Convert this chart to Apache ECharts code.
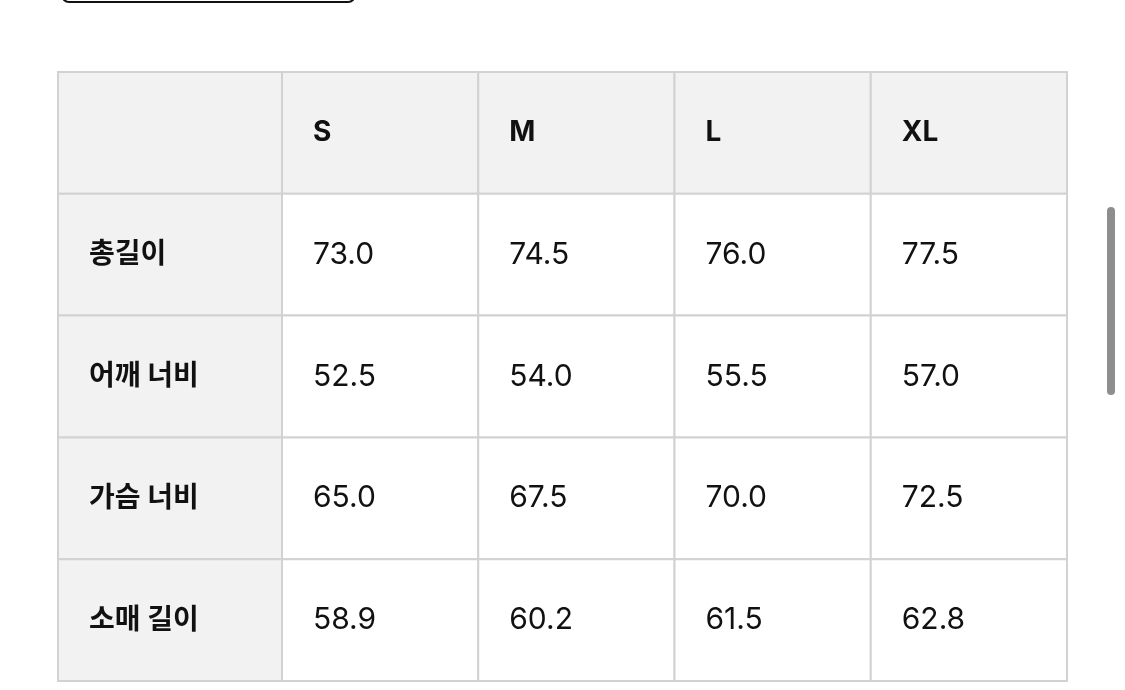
<!DOCTYPE html>
<html><head><meta charset="utf-8">
<script src="https://cdn.jsdelivr.net/npm/echarts@6/dist/echarts.min.js"></script>
<style>html,body{margin:0;padding:0;background:#fff}#c{width:1125px;height:690px}</style>
</head><body><div id="c"></div>
<script>
const sizes = ['S','M','L','XL'];
const rowLabels = ['총길이','어깨 너비','가슴 너비','소매 길이'];
const totalLength = ['73.0','74.5','76.0','77.5'];
const shoulderWidth = ['52.5','54.0','55.5','57.0'];
const chestWidth = ['65.0','67.5','70.0','72.5'];
const sleeveLength = ['58.9','60.2','61.5','62.8'];
const valueRows = [totalLength, shoulderWidth, chestWidth, sleeveLength];

const rowCats = ['header'].concat(rowLabels);
const font = 'Inter, "Noto Sans CJK KR", sans-serif';

const labelData = [[0,0,'',1]];
rowLabels.forEach((r,i)=>labelData.push([0,i+1,r,2]));
const valueData = [];
sizes.forEach((s,j)=>valueData.push([j,0,s,1]));
valueRows.forEach((arr,i)=>arr.forEach((v,j)=>valueData.push([j,i+1,v,0])));

function renderItem(params, api){
  const c = api.coord([api.value(0), api.value(1)]);
  const sz = api.size([1,1]);
  const kind = api.value(3);
  const text = labelData.concat(valueData)[0] && params.seriesIndex===0 ? labelData[params.dataIndex][2] : valueData[params.dataIndex][2];
  const x = c[0]-sz[0]/2, y = c[1]-sz[1]/2;
  return {type:'group', children:[
    {type:'rect', shape:{x:x,y:y,width:sz[0],height:sz[1]},
     style:{fill: kind>0 ? '#f2f2f2' : '#ffffff', stroke:'#d2d2d2', lineWidth:2}},
    {type:'text', style:{x:x+31, y:c[1], text:text, verticalAlign:'middle', align:'left',
      fill:'#111', font:(kind>0?'bold 28px ':'30px ')+font}}
  ]};
}
const hidden = {show:false};
const chart = echarts.init(document.getElementById('c'));
chart.setOption({
  animation:false,
  grid:[{left:58, top:72, width:224, height:609},{left:282, top:72, width:785, height:609}],
  xAxis:[{type:'category', data:['label'], gridIndex:0, ...hidden},
         {type:'category', data:sizes, gridIndex:1, ...hidden}],
  yAxis:[{type:'category', data:rowCats, inverse:true, gridIndex:0, ...hidden},
         {type:'category', data:rowCats, inverse:true, gridIndex:1, ...hidden}],
  graphic:[
    {type:'rect', shape:{x:62,y:-12,width:293,height:14,r:7}, style:{fill:'#fff',stroke:'#111',lineWidth:2}},
    {type:'rect', shape:{x:1107,y:207,width:8,height:188,r:4}, style:{fill:'#8e8e8e'}}
  ],
  series:[
    {type:'custom', xAxisIndex:0, yAxisIndex:0, data:labelData, renderItem:renderItem},
    {type:'custom', xAxisIndex:1, yAxisIndex:1, data:valueData, renderItem:renderItem}
  ]
});
</script></body></html>
